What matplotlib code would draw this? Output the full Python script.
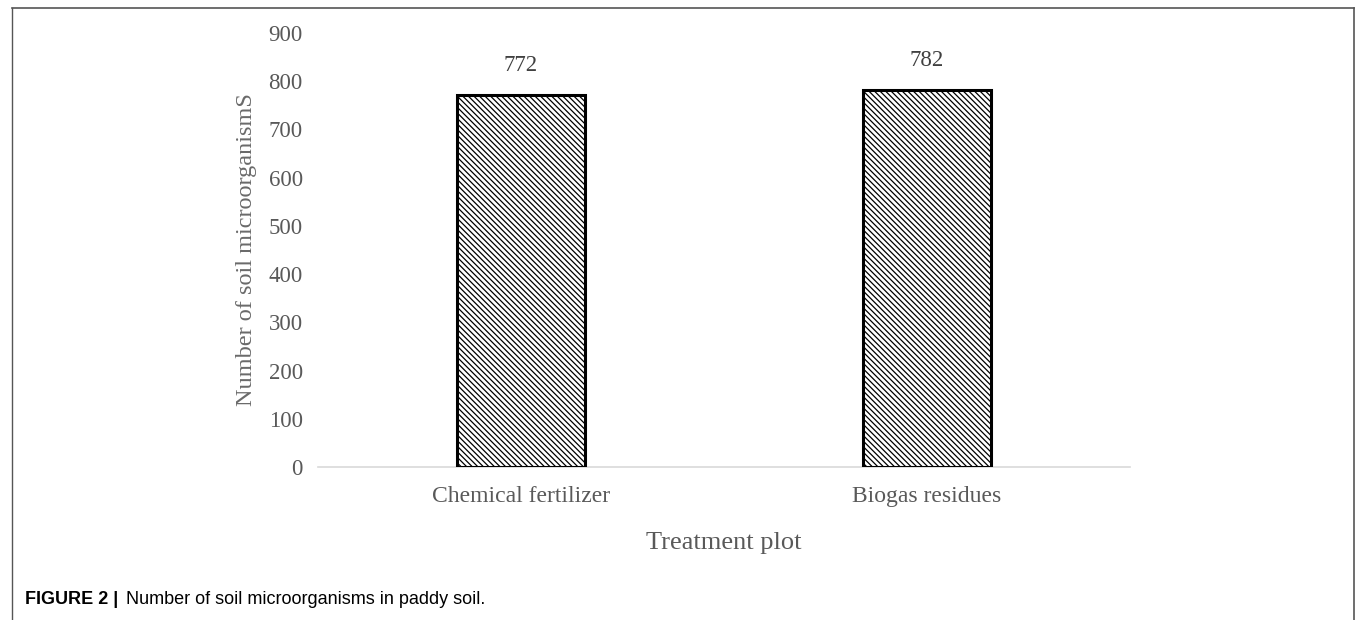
import matplotlib
matplotlib.use("Agg")
import matplotlib.pyplot as plt
from matplotlib.lines import Line2D

categories = ["Chemical fertilizer", "Biogas residues"]
values = [772, 782]
yticks = [0, 100, 200, 300, 400, 500, 600, 700, 800, 900]

W, H = 1355, 620
fig = plt.figure(figsize=(W/100, H/100), dpi=100)
plt.rcParams['hatch.linewidth'] = 0.9

ax = fig.add_axes([318/W, 1-467/H, (1130-318)/W, (467-33)/H])
x = list(range(len(categories)))
bars = ax.bar(x, values, width=0.315, color="white", edgecolor="black",
              linewidth=2.2, hatch="\\" * 6, zorder=3)
ax.set_xlim(-0.5, 1.5)
ax.set_ylim(0, 900)
ax.set_yticks(yticks)
ax.set_xticks(x)
ax.set_xticklabels(categories)
for s in ["top", "right", "left"]:
    ax.spines[s].set_visible(False)
ax.spines["bottom"].set_color("#d9d9d9")
ax.spines["bottom"].set_linewidth(1.2)
ax.tick_params(axis="x", length=0, labelsize=17, labelcolor="#595959", pad=14)
ax.tick_params(axis="y", length=0, labelsize=16.5, labelcolor="#595959", pad=11)
for lab in ax.get_xticklabels() + ax.get_yticklabels():
    lab.set_family("Liberation Serif")
for xi, v in zip(x, values):
    ax.text(xi, v + 60, str(v), ha="center", va="center", fontsize=16.5,
            color="#404040", family="Liberation Serif")
ax.set_ylabel("Number of soil microorganismS", fontsize=17.5, color="#6a6a6a",
              family="Liberation Serif", labelpad=8)
ax.set_xlabel("Treatment plot", fontsize=19, color="#595959",
              family="Liberation Serif", labelpad=18)

# figure frame
fig.add_artist(Line2D([12/W, 1354/W], [1-8/H, 1-8/H], transform=fig.transFigure,
                      color="#555555", linewidth=1.2))
fig.add_artist(Line2D([12/W, 12/W], [0, 1-8/H], transform=fig.transFigure,
                      color="#555555", linewidth=1.0))
fig.add_artist(Line2D([1354/W, 1354/W], [0, 1-8/H], transform=fig.transFigure,
                      color="#555555", linewidth=1.2))

fig.text(25/W, 1-599/H, "FIGURE 2 |", fontsize=13, fontweight="bold",
         family="Liberation Sans", va="center", ha="left")
fig.text(126/W, 1-599/H, "Number of soil microorganisms in paddy soil.",
         fontsize=13, family="Liberation Sans", va="center", ha="left")

fig.savefig("out.png", dpi=100)
